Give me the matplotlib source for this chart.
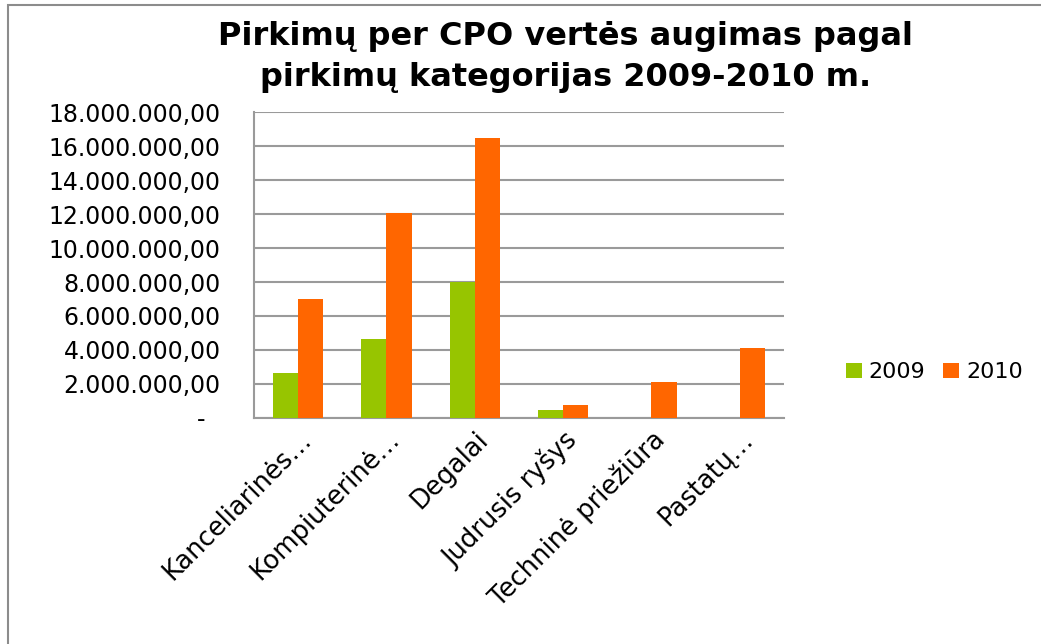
import matplotlib
matplotlib.use("Agg")
import matplotlib.pyplot as plt
import numpy as np
from matplotlib.ticker import FuncFormatter, MultipleLocator
from matplotlib.patches import Rectangle

categories = ['Kanceliarinės…', 'Kompiuterinė…', 'Degalai', 'Judrusis ryšys',
              'Techninė priežiūra', 'Pastatų…']
values_2009 = [2640000, 4620000, 8000000, 490000, 0, 0]
values_2010 = [7000000, 12050000, 16500000, 750000, 2100000, 4100000]
series_names = ['2009', '2010']
colors = ['#97C500', '#FF6600']

plt.rcParams['font.family'] = ['DejaVu Sans']

fig = plt.figure(figsize=(10.41, 6.44), dpi=100)
ax = fig.add_axes([0.244, 0.351, 0.509, 0.475])

x = np.arange(len(categories))
width = 0.286
ax.bar(x - width / 2, values_2009, width, color=colors[0], label=series_names[0], zorder=3)
ax.bar(x + width / 2, values_2010, width, color=colors[1], label=series_names[1], zorder=3)

ax.set_xlim(-0.5, len(categories) - 0.5)
ax.set_ylim(0, 18000000)
ax.yaxis.set_major_locator(MultipleLocator(2000000))


def fmt(v, pos):
    # accounting-style: zero shown as a dash
    if v == 0:
        return '-  '
    s = f'{v:,.2f}'
    return s.replace(',', 'X').replace('.', ',').replace('X', '.')


ax.yaxis.set_major_formatter(FuncFormatter(fmt))
ax.grid(axis='y', color='#9a9a9a', linewidth=1.5, zorder=0)
ax.set_axisbelow(True)
for side in ['top', 'right']:
    ax.spines[side].set_visible(False)
for side in ['left', 'bottom']:
    ax.spines[side].set_color('#9a9a9a')
    ax.spines[side].set_linewidth(1.5)
ax.tick_params(axis='y', length=0, labelsize=17, pad=24)
ax.tick_params(axis='x', length=0, labelsize=18.5, pad=6)
ax.set_xticks(x)
ax.set_xticklabels(categories, rotation=45, ha='right', va='top', rotation_mode='anchor')

fig.text(0.543, 0.968, 'Pirkimų per CPO vertės augimas pagal\npirkimų kategorijas 2009-2010 m.',
         ha='center', va='top', fontsize=23, fontweight='bold', linespacing=1.42)

fig.legend(loc='center left', bbox_to_anchor=(0.8127, 0.422), ncol=2, frameon=False,
           fontsize=16, handlelength=0.7, handleheight=0.7, handletextpad=0.32,
           columnspacing=0.8, borderpad=0, borderaxespad=0)

fig.patches.append(Rectangle((8 / 1041, -0.1), 1.2, (644 - 5) / 644 + 0.1,
                             transform=fig.transFigure, fill=False,
                             edgecolor='#8c8c8c', linewidth=1.5))

fig.savefig('out.png', dpi=100)
